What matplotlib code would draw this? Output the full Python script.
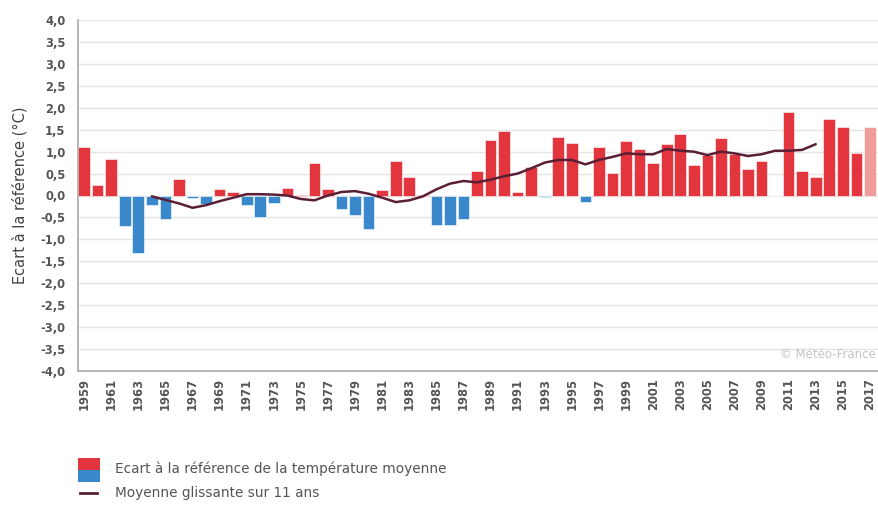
import matplotlib
matplotlib.use("Agg")
import matplotlib.pyplot as plt
import matplotlib.ticker as ticker
from matplotlib.patches import Rectangle
from matplotlib.lines import Line2D

# yearly anomaly vs reference (°C), 1959-2018
years = list(range(1959, 2019))
anomaly = [1.11, 0.24, 0.83, -0.70, -1.31, -0.21, -0.53, 0.37, -0.05, -0.20,
           0.14, 0.09, -0.22, -0.49, -0.18, 0.16, 0.02, 0.73, 0.15, -0.30,
           -0.45, -0.76, 0.13, 0.79, 0.43, 0.01, -0.67, -0.67, -0.54, 0.56,
           1.27, 1.48, 0.08, 0.65, -0.03, 1.34, 1.19, -0.15, 1.11, 0.52,
           1.25, 1.06, 0.73, 1.17, 1.40, 0.69, 0.92, 1.30, 0.94, 0.60,
           0.79, 0.00, 1.90, 0.56, 0.42, 1.74, 1.57, 0.96, 1.57, 2.10]
highlight_year = 2017

# 11-year running mean
ma_years = list(range(1964, 2014))
ma_values = [-0.02, -0.10, -0.18, -0.28, -0.22, -0.13, -0.05, 0.03, 0.03, 0.02,
             0.00, -0.08, -0.11, 0.00, 0.08, 0.10, 0.04, -0.05, -0.15, -0.11,
             -0.02, 0.14, 0.27, 0.33, 0.30, 0.36, 0.44, 0.50, 0.62, 0.75,
             0.81, 0.81, 0.71, 0.81, 0.88, 0.96, 0.94, 0.94, 1.06, 1.02,
             1.00, 0.92, 1.00, 0.96, 0.90, 0.94, 1.02, 1.02, 1.04, 1.17]

tick_years = list(range(1959, 2018, 2))
y_ticks = [-4.0 + 0.5 * i for i in range(17)]

RED = '#e2353e'
BLUE = '#3a88cc'
PINK = '#f09b9c'
LINE = '#5a1f35'
TXT = '#555555'

plt.rcParams['font.family'] = ['DejaVu Sans']

fig = plt.figure(figsize=(8.79, 5.08), dpi=100)
W, H = 879, 508
# axes run a little past the right edge of the picture (cropped like the original)
ax = fig.add_axes([78 / W, 1 - 371 / H, (890 - 78) / W, (371 - 20) / H])

colors = []
for y, v in zip(years, anomaly):
    if y == highlight_year:
        colors.append(PINK)
    elif v >= 0:
        colors.append(RED)
    else:
        colors.append(BLUE)

ax.bar(years, anomaly, width=0.86, color=colors, edgecolor='white',
       linewidth=0.4, zorder=2)
ax.plot(ma_years, ma_values, color=LINE, lw=1.8, zorder=3,
        solid_capstyle='round', solid_joinstyle='round')

ax.set_xlim(1958.55, 2018.48)
ax.set_ylim(-4.0, 4.0)
ax.set_yticks(y_ticks)
ax.yaxis.set_major_formatter(ticker.FuncFormatter(
    lambda v, pos: '{:.1f}'.format(v).replace('.', ',')))
ax.set_xticks(tick_years)
ax.set_xticklabels([str(t) for t in tick_years], rotation=90)

ax.grid(axis='y', color='#e4e4e4', lw=1.0, zorder=0)
ax.set_axisbelow(True)
for s in ['top', 'right']:
    ax.spines[s].set_visible(False)
ax.spines['left'].set_color('#aaaaaa')
ax.spines['bottom'].set_color('#aaaaaa')
ax.spines['left'].set_linewidth(1.2)
ax.spines['bottom'].set_linewidth(1.2)
ax.tick_params(axis='both', length=0, colors=TXT, labelsize=8.3)
ax.tick_params(axis='y', pad=9)
ax.tick_params(axis='x', pad=5)
for lab in ax.get_xticklabels() + ax.get_yticklabels():
    lab.set_fontweight('bold')
    lab.set_color(TXT)

ax.set_ylabel('Ecart à la référence (°C)', fontsize=10.5, color='#444444')
ax.yaxis.set_label_coords(-50 / (890 - 78), 0.5)

fig.text(876 / W, 1 - 355 / H, '© Météo-France', ha='right', va='center',
         fontsize=8.5, color='#c4c4c4')

# legend below the chart
fig.add_artist(Rectangle((78 / W, 1 - 470 / H), 22 / W, 12 / H,
                         transform=fig.transFigure, color=RED, lw=0))
fig.add_artist(Rectangle((78 / W, 1 - 482 / H), 22 / W, 12 / H,
                         transform=fig.transFigure, color=BLUE, lw=0))
fig.text(115 / W, 1 - 469 / H, 'Ecart à la référence de la température moyenne',
         fontsize=9.8, color=TXT, va='center')
fig.add_artist(Line2D([80 / W, 97 / W], [1 - 493 / H, 1 - 493 / H],
                      transform=fig.transFigure, color=LINE, lw=2))
fig.text(115 / W, 1 - 493 / H, 'Moyenne glissante sur 11 ans',
         fontsize=9.8, color=TXT, va='center')

fig.savefig('out.png', dpi=100)
